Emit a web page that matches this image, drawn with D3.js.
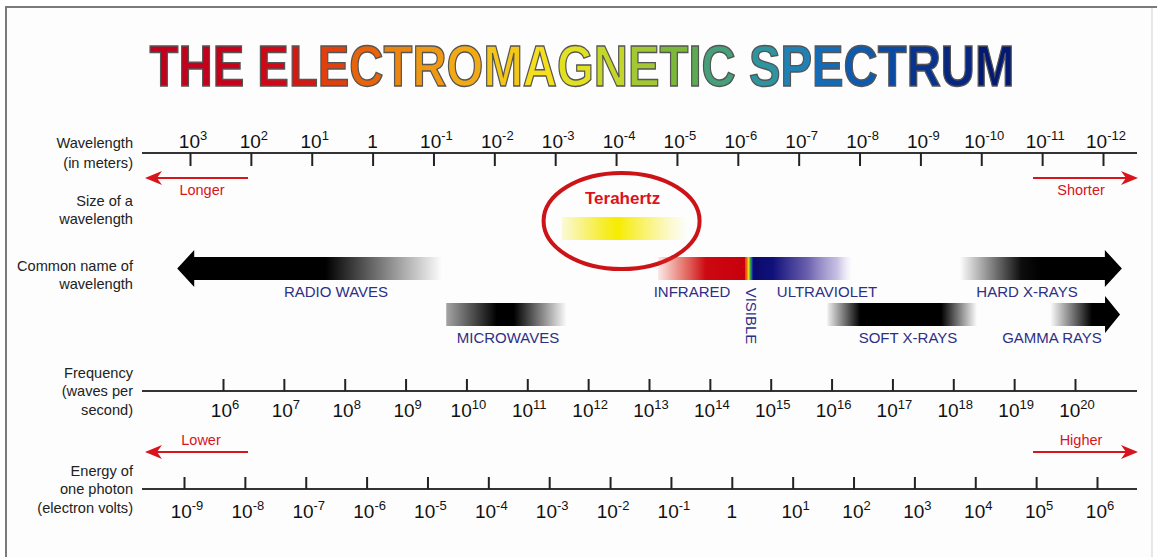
<!DOCTYPE html>
<html><head><meta charset="utf-8">
<script src="https://cdn.jsdelivr.net/npm/d3@7"></script>
<style>
html,body{margin:0;padding:0;background:#fff;}
svg{display:block;font-family:"Liberation Sans",Arial,Helvetica,sans-serif;}
</style></head>
<body><svg id="chart" width="1157" height="557"></svg>
<script>
// ---------- DATA ----------
const titleText = "THE ELECTROMAGNETIC SPECTRUM";
const titleColors = ["#c2001c","#c4001c","#c8001a"," ","#d00816","#d61812","#e0400e","#e8640c","#ec8410","#ef9814","#f1aa16","#f3c61a","#f5de1e","#e2e022","#c4d62a","#a2c832","#7cb83a","#5cab52","#46a07a"," ","#2e94a0","#2082b4","#146cb8","#0e5aae","#0b4aa2","#083490","#062680","#041a72"];
const wavelengthExp = [3,2,1,0,-1,-2,-3,-4,-5,-6,-7,-8,-9,-10,-11,-12];   // log10 metres
const frequencyExp  = [6,7,8,9,10,11,12,13,14,15,16,17,18,19,20];          // log10 Hz
const energyExp     = [-9,-8,-7,-6,-5,-4,-3,-2,-1,0,1,2,3,4,5,6];           // log10 eV
const bandNames = ["RADIO WAVES","MICROWAVES","TERAHERTZ","INFRARED","VISIBLE","ULTRAVIOLET","SOFT X-RAYS","HARD X-RAYS","GAMMA RAYS"];
const bandFrom  = [3.21,-1.21,-3.11,-4.69,-6.12,-6.25,-7.47,-9.65,-11.13];  // log10 wavelength where band graphic starts
const bandTo    = [-1.14,-3.19,-5.17,-6.12,-6.25,-7.88,-9.93,-12.31,-12.28];
const rowLabels = [["Wavelength","(in meters)"],["Size of a","wavelength"],["Common name of","wavelength"],["Frequency","(waves per","second)"],["Energy of","one photon","(electron volts)"]];
const directionWords = ["Longer","Shorter","Lower","Higher"];

// ---------- SETUP ----------
const svg = d3.select("#chart");
const x  = d3.scaleLinear().domain([3,-12]).range([190,1103]);
const xf = d3.scaleLinear().domain([6,20]).range([223,1075]);
const xe = d3.scaleLinear().domain([-9,6]).range([184,1097]);
const band = {}; bandNames.forEach((n,i)=>band[n]={x0:x(bandFrom[i]), x1:x(bandTo[i])});

const defs = svg.append("defs");
function grad(id, x0, x1, stops){
  const g = defs.append("linearGradient").attr("id",id).attr("gradientUnits","userSpaceOnUse")
    .attr("x1",x0).attr("x2",x1).attr("y1",0).attr("y2",0);
  stops.forEach(s=>g.append("stop").attr("offset",s[0]).attr("stop-color",s[1]).attr("stop-opacity",s[2]===undefined?1:s[2]));
  return `url(#${id})`;
}

// background + frame
svg.append("rect").attr("x",6).attr("y",7).attr("width",1146).attr("height",560).attr("fill","#fdfdfd");
svg.append("line").attr("x1",5).attr("x2",1157).attr("y1",7).attr("y2",7).attr("stroke","#7a7a7a").attr("stroke-width",2);
svg.append("line").attr("x1",6).attr("x2",6).attr("y1",6).attr("y2",557).attr("stroke","#7a7a7a").attr("stroke-width",2);
svg.append("line").attr("x1",1152).attr("x2",1152).attr("y1",8).attr("y2",557).attr("stroke","#d0d0d0").attr("stroke-width",1);

// ---------- TITLE ----------
const title = svg.append("text").attr("transform","translate(582,86) scale(0.845,1.02)")
  .attr("text-anchor","middle").attr("font-size",56).attr("font-weight","bold")
  .attr("stroke","#555").attr("stroke-width",1.4).attr("paint-order","fill");
titleText.split("").forEach((c,i)=>title.append("tspan").text(c).attr("fill",titleColors[i]===" "?"none":titleColors[i]));

// ---------- ROW LABELS ----------
const rowY = [[143,163],[201,219],[266,284],[373,391,410],[471,489,508]];
rowLabels.forEach((lines,r)=>lines.forEach((t,k)=>svg.append("text").attr("x",133).attr("y",rowY[r][k]).attr("dy","0.35em")
  .attr("text-anchor","end").attr("font-size",14.6).attr("fill","#222").text(t)));

// ---------- AXES ----------
function supLabel(sel, e){
  sel.text(null);
  if(e===0){ sel.append("tspan").text("1"); return; }
  sel.append("tspan").text("10");
  sel.append("tspan").attr("font-size",13).attr("dy",-8).text(String(e));
}
function styleAxis(g){
  g.select(".domain").remove();
  g.selectAll(".tick line").attr("stroke","#222").attr("stroke-width",2);
}
// wavelength
svg.append("line").attr("x1",142).attr("x2",1137).attr("y1",153).attr("y2",153).attr("stroke","#333").attr("stroke-width",2);
const gW = svg.append("g").attr("transform","translate(0,153)")
  .call(d3.axisBottom(x).tickValues(wavelengthExp).tickSize(13).tickFormat(""));
styleAxis(gW);
wavelengthExp.forEach(e=>svg.append("text").attr("x",x(e)+(e===0?0:3)).attr("y",148).attr("text-anchor","middle")
  .attr("font-size",19).attr("fill","#111").call(s=>supLabel(s,e)));
// frequency
svg.append("line").attr("x1",142).attr("x2",1137).attr("y1",391).attr("y2",391).attr("stroke","#333").attr("stroke-width",2);
const gF = svg.append("g").attr("transform","translate(0,391)")
  .call(d3.axisTop(xf).tickValues(frequencyExp).tickSize(12).tickFormat(""));
styleAxis(gF);
frequencyExp.forEach(e=>svg.append("text").attr("x",xf(e)+2).attr("y",417).attr("text-anchor","middle")
  .attr("font-size",19).attr("fill","#111").call(s=>supLabel(s,e)));
// energy
svg.append("line").attr("x1",142).attr("x2",1137).attr("y1",489).attr("y2",489).attr("stroke","#333").attr("stroke-width",2);
const gE = svg.append("g").attr("transform","translate(0,489)")
  .call(d3.axisTop(xe).tickValues(energyExp).tickSize(12).tickFormat(""));
styleAxis(gE);
energyExp.forEach(e=>svg.append("text").attr("x",xe(e)+(e===0?0:3)).attr("y",518).attr("text-anchor","middle")
  .attr("font-size",19).attr("fill","#111").call(s=>supLabel(s,e)));

// ---------- DIRECTION ARROWS ----------
const RED = "#d8141c";
function redArrow(xa, xb, y){ // tip at xb
  const dir = xb>xa?1:-1;
  svg.append("line").attr("x1",xa).attr("x2",xb-dir*10).attr("y1",y).attr("y2",y).attr("stroke",RED).attr("stroke-width",2);
  svg.append("path").attr("d",`M${xb},${y} L${xb-dir*17},${y-7} L${xb-dir*12},${y} L${xb-dir*17},${y+7} Z`).attr("fill",RED);
}
redArrow(248,145,178); redArrow(1033,1138,178);
redArrow(248,145,452); redArrow(1033,1138,452);
[[202,190],[1081,190],[201,440],[1081,440]].forEach((p,i)=>svg.append("text").attr("x",p[0]).attr("y",p[1]).attr("dy","0.35em")
  .attr("text-anchor","middle").attr("font-size",14.5).attr("fill",RED).text(directionWords[i]));

// ---------- BANDS ----------
const NAVY = "#2d2f86";
const r1y0 = 257, r1y1 = 280, r2y0 = 303, r2y1 = 326;

// radio waves (arrow pointing left)
{ const b = band["RADIO WAVES"]; const hb = b.x0+17;
  const f = grad("gRadio", b.x0, b.x1, [[0,"#000",1],[0.56,"#000",1],[0.8,"#000",0.45],[1,"#000",0]]);
  svg.append("path").attr("d",`M${b.x0},${(r1y0+r1y1)/2} L${hb},${r1y0-7} L${hb},${r1y0} L${b.x1},${r1y0} L${b.x1},${r1y1} L${hb},${r1y1} L${hb},${r1y1+7} Z`).attr("fill",f); }
// microwaves
{ const b = band["MICROWAVES"];
  const f = grad("gMicro", b.x0, b.x1, [[0,"#000",0.35],[0.42,"#000",1],[0.56,"#000",1],[1,"#000",0]]);
  svg.append("rect").attr("x",b.x0).attr("y",r2y0).attr("width",b.x1-b.x0).attr("height",r2y1-r2y0).attr("fill",f); }
// terahertz
{ const b = band["TERAHERTZ"];
  const f = grad("gTHz", b.x0, b.x1, [[0,"#f2e600",0.15],[0.35,"#f5ea00",0.85],[0.45,"#f7ec00",1],[0.7,"#f7ee30",0.6],[1,"#f7ee60",0]]);
  svg.append("rect").attr("x",b.x0).attr("y",217).attr("width",b.x1-b.x0).attr("height",23).attr("fill",f);
  svg.append("ellipse").attr("cx",(b.x0+b.x1)/2-3).attr("cy",221).attr("rx",78).attr("ry",48)
    .attr("fill","none").attr("stroke","#cc1418").attr("stroke-width",4);
  svg.append("text").attr("x",(b.x0+b.x1)/2-2).attr("y",198).attr("dy","0.35em").attr("text-anchor","middle")
    .attr("font-size",17).attr("font-weight","bold").attr("fill","#e0101a").text("Terahertz"); }
// infrared
{ const b = band["INFRARED"];
  const f = grad("gIR", b.x0, b.x1, [[0,"#e03020",0.1],[0.25,"#d82818",0.55],[0.55,"#cc0810",1],[1,"#c8000e",1]]);
  svg.append("rect").attr("x",b.x0).attr("y",r1y0).attr("width",b.x1-b.x0).attr("height",r1y1-r1y0).attr("fill",f); }
// visible
{ const b = band["VISIBLE"];
  const f = grad("gVis", b.x0, b.x1, [[0,"#e02010"],[0.25,"#f08010"],[0.45,"#f0e020"],[0.65,"#30b040"],[0.85,"#2050c0"],[1,"#101080"]]);
  svg.append("rect").attr("x",b.x0).attr("y",r1y0).attr("width",b.x1-b.x0).attr("height",r1y1-r1y0).attr("fill",f); }
// ultraviolet
{ const b = band["ULTRAVIOLET"];
  const f = grad("gUV", b.x0, b.x1, [[0,"#0a0a6c",1],[0.2,"#10107a",1],[0.55,"#5a4ea4",0.9],[0.85,"#b0a6d8",0.7],[1,"#d8d0f0",0]]);
  svg.append("rect").attr("x",b.x0).attr("y",r1y0).attr("width",b.x1-b.x0).attr("height",r1y1-r1y0).attr("fill",f); }
// soft x-rays
{ const b = band["SOFT X-RAYS"];
  const f = grad("gSoft", b.x0, b.x1, [[0,"#000",0.05],[0.22,"#000",1],[0.76,"#000",1],[1,"#000",0]]);
  svg.append("rect").attr("x",b.x0).attr("y",r2y0).attr("width",b.x1-b.x0).attr("height",r2y1-r2y0).attr("fill",f); }
// hard x-rays (arrow right)
{ const b = band["HARD X-RAYS"]; const hb = b.x1-17;
  const f = grad("gHard", b.x0, b.x1, [[0,"#000",0],[0.38,"#000",0.95],[0.5,"#000",1],[1,"#000",1]]);
  svg.append("path").attr("d",`M${b.x1},${(r1y0+r1y1)/2} L${hb},${r1y0-7} L${hb},${r1y0} L${b.x0},${r1y0} L${b.x0},${r1y1} L${hb},${r1y1} L${hb},${r1y1+7} Z`).attr("fill",f); }
// gamma rays (arrow right)
{ const b = band["GAMMA RAYS"]; const hb = b.x1-15;
  const f = grad("gGamma", b.x0, b.x1, [[0,"#000",0],[0.6,"#000",1],[1,"#000",1]]);
  svg.append("path").attr("d",`M${b.x1},${(r2y0+r2y1)/2} L${hb},${r2y0-7} L${hb},${r2y0} L${b.x0},${r2y0} L${b.x0},${r2y1} L${hb},${r2y1} L${hb},${r2y1+7} Z`).attr("fill",f); }

// band labels
const labelPos = {"RADIO WAVES":[336,292],"MICROWAVES":[508,338],"INFRARED":[692,292],"ULTRAVIOLET":[827,292],
  "SOFT X-RAYS":[908,338],"HARD X-RAYS":[1027,292],"GAMMA RAYS":[1052,338]};
Object.keys(labelPos).forEach(n=>svg.append("text").attr("x",labelPos[n][0]).attr("y",labelPos[n][1]).attr("dy","0.35em")
  .attr("text-anchor","middle").attr("font-size",15).attr("fill",NAVY).text(n));
svg.append("text").attr("transform","translate(751,316) rotate(90)").attr("text-anchor","middle").attr("dy","0.35em")
  .attr("font-size",15).attr("fill",NAVY).text("VISIBLE");
</script></body></html>
